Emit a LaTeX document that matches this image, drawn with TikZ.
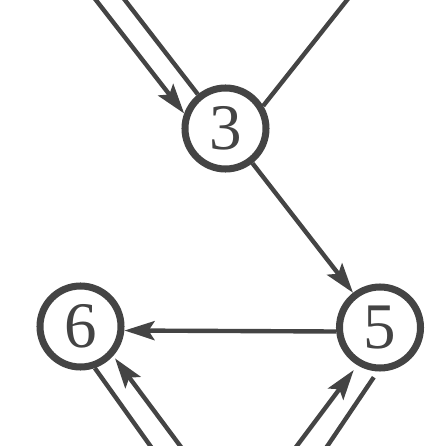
\documentclass[tikz,border=0pt]{standalone}
\usepackage{fontspec}
\setmainfont{Liberation Serif}
\usetikzlibrary{arrows.meta}
\definecolor{ink}{HTML}{444444}
\begin{document}
\begin{tikzpicture}[line width=2.5pt,draw=ink,
  >={Stealth[length=0.6cm,width=0.38cm,inset=0.12cm]},
  vertex/.style={circle,draw=ink,line width=4pt,minimum size=1.62cm,inner sep=0pt,
    text=ink,font=\fontsize{37}{40}\selectfont}]
\useasboundingbox (0,0) rectangle (8.92,-8.92);
\node [vertex] (v3) at (4.51,-2.57) {3};
\node [vertex] (v6) at (1.61,-6.53) {6};
\node [vertex] (v5) at (7.60,-6.55) {5};
% free ends outside the frame
\coordinate (c0) at (1.84,0.10);
\coordinate (c1) at (2.42,0.10);
\coordinate (c2) at (7.02,0.10);
\coordinate (c3) at (3.08,-9.02);
\coordinate (c4) at (3.68,-9.02);
\coordinate (c5) at (5.86,-9.02);
\coordinate (c6) at (6.48,-9.02);
\draw [->] (c0) -- (v3.160);
\draw (c1) -- (v3.129);
\draw (c2) -- (v3.31);
\draw [->] (v3) edge (v5);
\draw [->] ([yshift=-0.08cm]v5.west) -- ([yshift=-0.08cm]v6.east);
\draw (c3) -- (v6.-71);
\draw [->,shorten >=0.06cm] (c4) -- (v6.-42);
\draw [->,shorten >=0.12cm] (c5) -- (v5.-121);
\draw [shorten >=0.14cm] (c6) -- (v5.-93);
\end{tikzpicture}
\end{document}
